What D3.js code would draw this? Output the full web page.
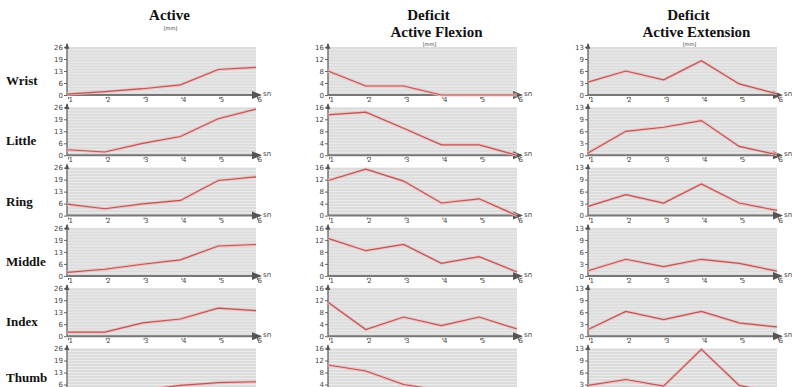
<!DOCTYPE html>
<html>
<head>
<meta charset="utf-8">
<script src="https://cdn.jsdelivr.net/npm/d3@7"></script>
<style>
  body { margin: 0; background: #fff; }
  svg { display: block; }
</style>
</head>
<body>
<div id="chart"></div>
<script>
const sessions = [1, 2, 3, 4, 5, 6];
const fingers = ['Wrist', 'Little', 'Ring', 'Middle', 'Index', 'Thumb'];

// Active [mm]
const active = [
  [0.5, 1.8, 3.4, 5.5, 13.8, 15],
  [3, 1.8, 6.5, 10.2, 19.8, 25],
  [6.2, 3.7, 6.3, 8.2, 19, 21],
  [1.9, 3.6, 6.3, 8.7, 16.2, 17],
  [2.2, 2.2, 7.2, 9.3, 15.2, 13.8],
  [1, 2, 3.5, 6, 7.5, 8]
];
// Deficit Active Flexion [mm]
const deficitFlexion = [
  [8, 3, 3, 0, 0, 0],
  [13.5, 14.4, 9, 3.5, 3.5, 0],
  [11.7, 15.5, 11.5, 4.2, 5.6, 0],
  [12.5, 8.4, 10.5, 4.2, 6.4, 1.3],
  [11.3, 2.2, 6.4, 3.5, 6.4, 2.4],
  [10.5, 8.5, 4, 2, 1.5, 1]
];
// Deficit Active Extension [mm]
const deficitExtension = [
  [3.5, 6.5, 4.1, 9.3, 3, 0.3],
  [0.6, 6.5, 7.6, 9.4, 2.4, 0.2],
  [2.5, 5.7, 3.4, 8.6, 3.4, 1.4],
  [1.4, 4.5, 2.5, 4.5, 3.4, 1.3],
  [1.8, 6.7, 4.5, 6.7, 3.6, 2.5],
  [3, 4.6, 2.8, 12.8, 3, 1]
];
const titles = [['Active'], ['Deficit', 'Active Flexion'], ['Deficit', 'Active Extension']];
const unitLabel = '[mm]';
const yMaxes = [26, 16, 13];

const columns = [active, deficitFlexion, deficitExtension].map((data, i) => ({
  data, title: titles[i], max: yMaxes[i]
}));

const W = 792, H = 387;
const colX = [67, 328, 588];
const plotW = 189, plotH = 48;
const rowTop = i => 47 + i * 60.3;

const svg = d3.select('#chart').append('svg')
  .attr('width', W).attr('height', H);

const defs = svg.append('defs');
defs.append('marker')
  .attr('id', 'arrow')
  .attr('viewBox', '0 0 10 10')
  .attr('refX', 8).attr('refY', 5)
  .attr('markerWidth', 5).attr('markerHeight', 5)
  .attr('orient', 'auto')
  .append('path').attr('d', 'M0,1 L10,5 L0,9 Z').attr('fill', '#555');

const serif = "'Liberation Serif', 'Times New Roman', serif";
const sans = "'DejaVu Sans', sans-serif";

// column titles
columns.forEach((col, c) => {
  const cx = colX[c] + plotW / 2 + (c === 0 ? 8 : 6);
  const lines = col.title;
  lines.forEach((t, k) => {
    svg.append('text')
      .attr('x', cx + (lines.length > 1 && k === 1 ? 8 : 0))
      .attr('y', 20 + k * 17)
      .attr('text-anchor', 'middle')
      .style('font-family', serif).attr('font-weight', 'bold')
      .attr('font-size', '15px').attr('fill', '#111')
      .text(t);
  });
  svg.append('text')
    .attr('x', cx + 1)
    .attr('y', lines.length === 1 ? 30 : 46)
    .attr('text-anchor', 'middle')
    .style('font-family', sans).attr('font-size', '5px').attr('fill', '#333')
    .text(unitLabel);
});

// row labels
fingers.forEach((f, r) => {
  svg.append('text')
    .attr('x', 6).attr('y', Math.min(rowTop(r) + 38, 382))
    .style('font-family', serif).attr('font-weight', 'bold')
    .attr('font-size', '13px').attr('fill', '#111')
    .text(f);
});

const x = d3.scaleLinear().domain(d3.extent(sessions)).range([0, plotW]);

columns.forEach((col, c) => {
  const y = d3.scaleLinear().domain([0, col.max]).range([plotH, 0]);
  const tickVals = d3.range(0, 5).map(k => col.max * k / 4);

  fingers.forEach((f, r) => {
    const g = svg.append('g')
      .attr('transform', `translate(${colX[c]},${rowTop(r)})`);

    g.append('rect')
      .attr('x', 0).attr('y', 0)
      .attr('width', plotW).attr('height', plotH)
      .attr('fill', '#dcdcdc');

    // stripe grid
    g.selectAll('line.stripe')
      .data(d3.range(1, 16).map(k => col.max * k / 16))
      .join('line')
      .attr('class', 'stripe')
      .attr('x1', 0).attr('x2', plotW)
      .attr('y1', d => y(d)).attr('y2', d => y(d))
      .attr('stroke', '#ececec').attr('stroke-width', 1);

    // y axis
    const yAxis = g.append('g')
      .call(d3.axisLeft(y).tickValues(tickVals).tickFormat(d => Math.floor(d)).tickSize(3).tickPadding(1));
    yAxis.select('.domain').remove();
    yAxis.selectAll('.tick line').attr('stroke', '#666');
    yAxis.selectAll('.tick text')
      .style('font-family', sans).attr('font-size', '7px').attr('fill', '#444');
    g.append('line')
      .attr('x1', 0).attr('x2', 0).attr('y1', plotH).attr('y2', -3)
      .attr('stroke', '#555').attr('stroke-width', 1.2)
      .attr('marker-end', 'url(#arrow)');

    // x axis
    const xAxis = g.append('g')
      .attr('transform', `translate(0,${plotH})`)
      .call(d3.axisBottom(x).tickValues(sessions).tickFormat(d3.format('d')).tickSize(0).tickPadding(2));
    xAxis.select('.domain').remove();
    xAxis.selectAll('.tick text')
      .style('font-family', sans).attr('font-size', '7px').attr('fill', '#444')
      .attr('text-anchor', 'start').attr('dx', '1');
    xAxis.selectAll('.tick').append('line')
      .attr('x1', 1).attr('x2', 1).attr('y1', 2).attr('y2', 4)
      .attr('stroke', '#666');
    g.append('line')
      .attr('x1', 0).attr('x2', plotW + 4).attr('y1', y(0)).attr('y2', y(0))
      .attr('stroke', '#777').attr('stroke-width', 2)
      .attr('marker-end', 'url(#arrow)');
    g.append('text')
      .attr('x', plotW + 7).attr('y', y(0) + 1)
      .style('font-family', sans).attr('font-size', '7px').attr('fill', '#444')
      .text('sn');

    // series line
    const pts = sessions.map((s, i) => [s, col.data[r][i]]);
    const line = d3.line().x(d => x(d[0])).y(d => y(d[1]));
    g.append('path').datum(pts)
      .attr('d', line).attr('fill', 'none')
      .attr('stroke', '#f3bdbd').attr('stroke-width', 3);
    g.append('path').datum(pts)
      .attr('d', line).attr('fill', 'none')
      .attr('stroke', '#b05c5c').attr('stroke-width', 1.2);
  });
});
</script>
</body>
</html>
